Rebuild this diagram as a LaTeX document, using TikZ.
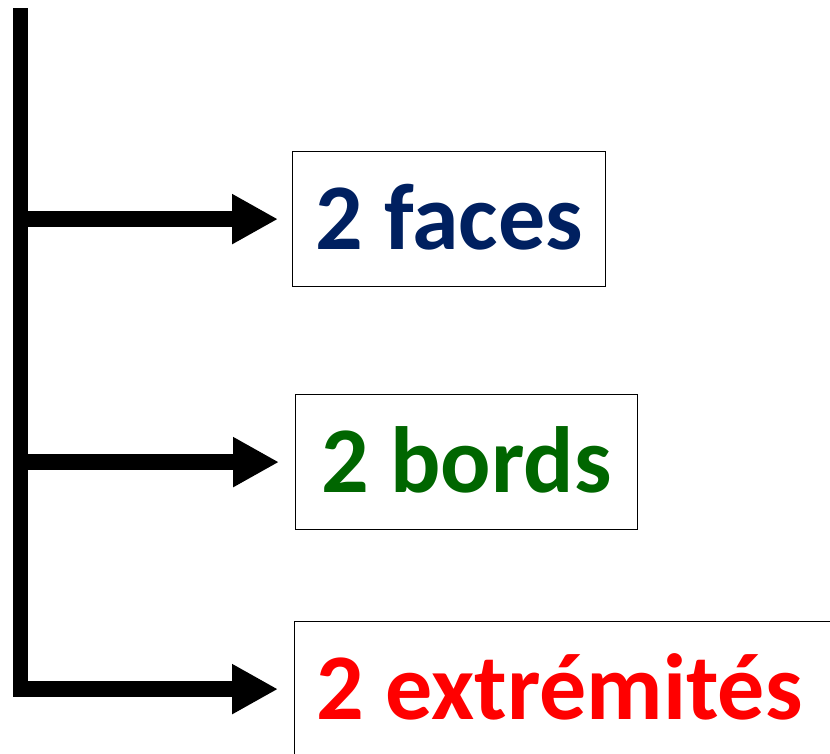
\documentclass[tikz,border=0pt]{standalone}
\usepackage{fontspec}
\setmainfont{Carlito}
\usetikzlibrary{arrows.meta}
\definecolor{bleufonce}{RGB}{0,32,96}
\definecolor{vertfonce}{RGB}{0,102,0}
\definecolor{rouge}{RGB}{255,0,0}

\begin{document}
\begin{tikzpicture}[x=1pt,y=-1pt,
	fleche/.style={line width=16pt,-{Triangle[length=46pt,width=47pt]}},
	boite/.style={draw,line width=1.2pt,anchor=north west,inner xsep=22pt,minimum height=135pt,
		text height=61pt,text depth=0pt,font=\fontsize{94pt}{100pt}\selectfont\bfseries}]
	\clip (0,0) rectangle (830,753);
	\coordinate (haut) at (20.5,8);
	\node[boite,text=bleufonce,minimum width=313pt] (faces) at (292,151) {2 faces};
	\node[boite,text=vertfonce,minimum width=342pt] (bords) at (295,394) {2 bords};
	\node[boite,text=rouge] (extr) at (294,621) {2 extrémités\hspace*{60pt}};

	\draw[line width=15pt] (haut) -- (haut |- extr.west);
	\draw[fleche] (haut |- faces.west) -- ([xshift=-14pt]faces.west);
	\draw[fleche] (haut |- bords.west) -- ([xshift=-16pt]bords.west);
	\draw[fleche] ([xshift=-7.5pt]haut |- extr.west) -- ([xshift=-16pt]extr.west);
\end{tikzpicture}
\end{document}
